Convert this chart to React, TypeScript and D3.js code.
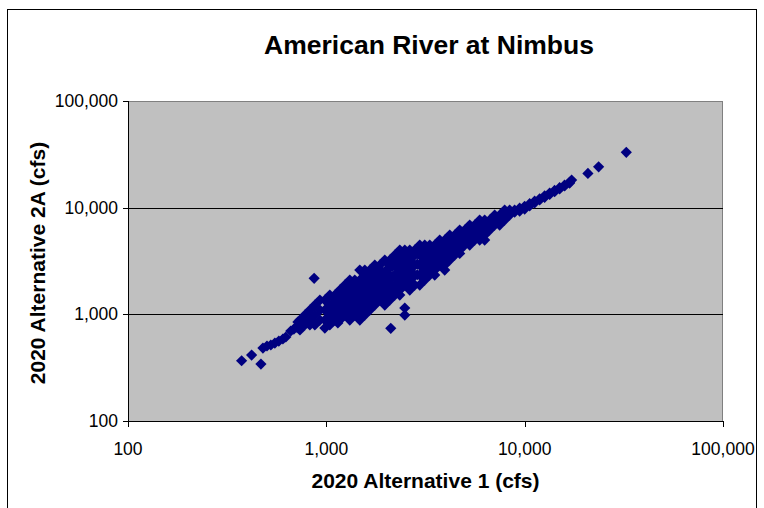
import React from "react";
import * as d3 from "d3";

const chartTitle = "American River at Nimbus";
const xAxisTitle = "2020 Alternative 1 (cfs)";
const yAxisTitle = "2020 Alternative 2A (cfs)";
const tickValues = [100, 1000, 10000, 100000];
const tickLabels = ["100", "1,000", "10,000", "100,000"];
const gridValues = [1000, 10000];

// [Alternative 1 cfs, Alternative 2A cfs]
const lowFlowPairs: [number, number][] = [
  [374, 367], [420, 415], [468, 342],
  [479, 483], [502, 505], [525, 516], [550, 538], [576, 562], [604, 587], [625, 613],
  [662, 698], [686, 728], [710, 760], [736, 794], [761, 829], [719, 847],
  [736, 884], [736, 713], [779, 985], [779, 794], [826, 1097], [826, 884], [826, 794],
  [875, 1222], [875, 985], [875, 794], [868, 2175],
  [928, 1361], [928, 1097], [928, 884],
  [983, 1361], [983, 1097], [983, 884], [983, 744],
];

const midFlowPairs: [number, number][] = [
  [1041, 1516], [1041, 1222], [1041, 985], [1041, 794],
  [1104, 1516], [1104, 1361], [1104, 1097], [1104, 884],
  [1169, 1689], [1169, 1361], [1169, 1097], [1169, 884], [1143, 829],
  [1239, 1882], [1239, 1516], [1239, 1222], [1239, 985],
  [1313, 2096], [1313, 1689], [1313, 1361], [1313, 1097], [1313, 884],
  [1391, 2096], [1391, 1882], [1391, 1516], [1391, 1222], [1391, 985],
  [1475, 2601], [1475, 2096], [1475, 1689], [1475, 1361], [1475, 1097], [1475, 884],
  [1563, 2601], [1563, 2335], [1563, 1882], [1563, 1516], [1563, 1222], [1563, 985],
  [1656, 2601], [1656, 2096], [1656, 1689], [1656, 1361], [1656, 1097],
  [1755, 2897], [1755, 2335], [1755, 1882], [1755, 1516], [1755, 1222],
  [1860, 2897], [1860, 2601], [1860, 2096], [1860, 1689], [1860, 1361],
  [1971, 3227], [1971, 2335], [1971, 1882], [1971, 1516], [1971, 1222],
  [2089, 3227], [2089, 2897], [2089, 2335], [2089, 1882], [2089, 1516], [2089, 1361],
  [2113, 739],
  [2214, 3595], [2214, 2897], [2214, 2335], [2214, 1882], [2214, 1516],
  [2346, 4005], [2346, 3227], [2346, 2601], [2346, 2096], [2346, 1689], [2346, 1516],
  [2486, 4005], [2486, 3595], [2486, 2897], [2486, 2335], [2486, 1882],
  [2486, 985], [2486, 1146],
  [2634, 4005], [2634, 3227], [2634, 2601], [2634, 2096], [2634, 1689],
  [2791, 4005], [2791, 3595], [2791, 2897], [2791, 2335], [2791, 1882],
  [2958, 4461], [2958, 3595], [2958, 2897], [2958, 2335], [2958, 1882],
  [3134, 4461], [3134, 4005], [3134, 3227], [3134, 2601], [3134, 2096],
  [3322, 4461], [3322, 3595], [3322, 2897], [3322, 2335],
  [3520, 4461], [3520, 4005], [3520, 3227], [3520, 2601], [3520, 2335],
  [3730, 4969], [3730, 4005], [3730, 3227], [3730, 2897],
  [3953, 4969], [3953, 4461], [3953, 3595], [3953, 2897], [3953, 2601],
  [4189, 5535], [4189, 4461], [4189, 3595], [4189, 3227],
  [4439, 5535], [4439, 4969], [4439, 4005], [4439, 3595],
  [4704, 6166], [4704, 4969], [4704, 4005], [4704, 3720],
  [4985, 6166], [4985, 5535], [4985, 4461],
  [5283, 6869], [5283, 5535], [5283, 4461],
  [5598, 6869], [5598, 6166], [5598, 4969],
  [5932, 7651], [5932, 6166], [5932, 4969],
  [6286, 7651], [6286, 6869], [6286, 5535], [6286, 4969],
];

const coreFlowPairs: [number, number][] = [
  [1072, 1180], [1072, 900],
  [1136, 1450], [1136, 1250], [1136, 980],
  [1204, 1500], [1204, 1200], [1204, 960],
  [1276, 1600], [1276, 1290], [1276, 1030],
  [1352, 1700], [1352, 1380], [1352, 1100],
  [1432, 1850], [1432, 1480], [1432, 1180],
  [1519, 2000], [1519, 1580], [1519, 1250],
  [1609, 2150], [1609, 1700], [1609, 1330],
  [1705, 2250], [1705, 1780], [1705, 1400],
  [1807, 2350], [1807, 1870], [1807, 1500],
  [1915, 2500], [1915, 1980], [1915, 1580],
  [2029, 2650], [2029, 2100], [2029, 1680],
  [2150, 2800], [2150, 2220], [2150, 1760],
  [2279, 3050], [2279, 2400], [2279, 1900],
  [2415, 3250], [2415, 2550], [2415, 2000],
  [2559, 3400], [2559, 2700], [2559, 2100],
  [2712, 3550], [2712, 2800], [2712, 2200],
  [2873, 3700], [2873, 2950], [2873, 2350],
  [3045, 3800], [3045, 3050], [3045, 2450],
  [3227, 3950], [3227, 3200], [3227, 2600],
  [3420, 4100], [3420, 3350], [3420, 2700],
  [3624, 4300], [3624, 3550], [3624, 2900],
  [3840, 4500], [3840, 3750], [3840, 3100],
  [4069, 4800], [4069, 4000], [4069, 3350],
  [4312, 5000], [4312, 4300], [4312, 3700],
  [4570, 5300], [4570, 4550],
  [4843, 5600], [4843, 4850],
  [5132, 5900], [5132, 5150],
  [5438, 6200], [5438, 5500],
  [5763, 6500], [5763, 5800],
];

const highFlowPairs: [number, number][] = [
  [6662, 7651], [6662, 6166], [7059, 8523], [7059, 6869],
  [7481, 8523], [7481, 7651], [7481, 6869],
  [7927, 9495], [7927, 7651], [8400, 9495], [8400, 8523],
  [8902, 9495], [8902, 9100], [9434, 9900], [9434, 9300],
  [10000, 10300], [10000, 9700], [10597, 10900], [10597, 10400],
  [11230, 11500], [11230, 11100], [11900, 12100], [11900, 11800],
  [12610, 12900], [12610, 12500], [13366, 13700], [13366, 13300],
  [14160, 14500], [14160, 14100], [15006, 15400], [15006, 15000],
  [15902, 16300], [15902, 16000], [16851, 17300], [16851, 17000],
  [17250, 18150],
  [20840, 20950], [23600, 24170], [32540, 33000],
];

const allPairs = [...lowFlowPairs, ...midFlowPairs, ...coreFlowPairs, ...highFlowPairs];

export default function App() {
  const width = 764;
  const height = 508;
  const left = 128, right = 723, top = 101, bottom = 421;
  const x = d3.scaleLog().domain([100, 100000]).range([left, right]);
  const y = d3.scaleLog().domain([100, 100000]).range([bottom, top]);
  const r = 5.6;
  const diamond = `M0,${-r}L${r},0L0,${r}L${-r},0Z`;
  const font = "'Liberation Sans', Arial, sans-serif";

  return (
    <svg width={width} height={height} style={{ position: "absolute", left: 0, top: 0 }}>
      <rect x={0} y={0} width={width} height={height} fill="#ffffff" />
      <rect x={7.5} y={9.5} width={749} height={520} fill="#ffffff" stroke="#000" strokeWidth={1} />
      <text x={429} y={54} textAnchor="middle" fontFamily={font} fontWeight="bold" fontSize={26.5}>
        {chartTitle}
      </text>
      <rect x={left} y={top} width={right - left} height={bottom - top} fill="#C0C0C0" />
      <line x1={left} x2={right} y1={top + 0.5} y2={top + 0.5} stroke="#808080" />
      <line x1={right - 0.5} x2={right - 0.5} y1={top} y2={bottom} stroke="#808080" />
      {gridValues.map((v) => (
        <line key={"g" + v} x1={left} x2={right} y1={Math.round(y(v)) + 0.5} y2={Math.round(y(v)) + 0.5} stroke="#000" />
      ))}
      <line x1={left} x2={right + 0.5} y1={bottom + 0.5} y2={bottom + 0.5} stroke="#000" />
      <line x1={left + 0.5} x2={left + 0.5} y1={top} y2={bottom + 1} stroke="#000" />
      {tickValues.map((v, i) => (
        <g key={"xt" + v}>
          <line x1={Math.round(x(v)) + 0.5} x2={Math.round(x(v)) + 0.5} y1={bottom} y2={bottom + 6} stroke="#000" />
          <text x={x(v)} y={455} textAnchor="middle" fontFamily={font} fontSize={17.5}>
            {tickLabels[i]}
          </text>
        </g>
      ))}
      {tickValues.map((v, i) => (
        <g key={"yt" + v}>
          <line x1={left - 5} x2={left} y1={Math.round(y(v)) + 0.5} y2={Math.round(y(v)) + 0.5} stroke="#000" />
          <text x={118} y={y(v) + 6} textAnchor="end" fontFamily={font} fontSize={17.5}>
            {tickLabels[i]}
          </text>
        </g>
      ))}
      <text x={(left + right) / 2} y={488} textAnchor="middle" fontFamily={font} fontWeight="bold" fontSize={21}>
        {xAxisTitle}
      </text>
      <text
        transform={`translate(45,${(top + bottom) / 2 + 2}) rotate(-90)`}
        textAnchor="middle"
        fontFamily={font}
        fontWeight="bold"
        fontSize={21}
      >
        {yAxisTitle}
      </text>
      <g fill="#000080">
        {allPairs.map((p, i) => (
          <path key={i} d={diamond} transform={`translate(${x(p[0])},${y(p[1])})`} />
        ))}
      </g>
    </svg>
  );
}
